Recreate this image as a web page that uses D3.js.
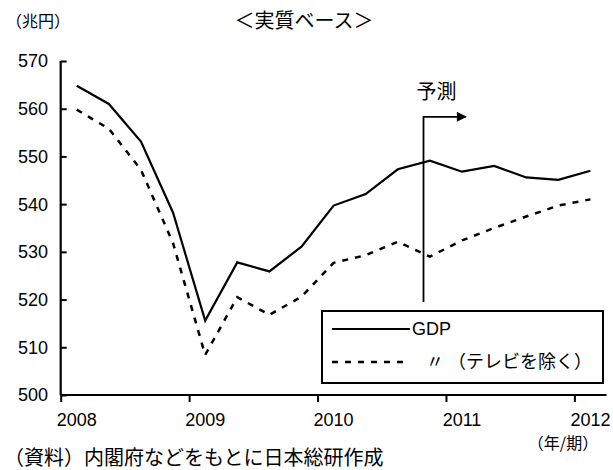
<!DOCTYPE html>
<html><head><meta charset="utf-8">
<script src="https://cdn.jsdelivr.net/npm/d3@7"></script>
<style>
html,body{margin:0;padding:0;background:#fff;}
svg{display:block;}
</style></head>
<body>
<svg id="chart" width="613" height="470"></svg>
<script>
// ---- data ----
const quarters = ["2008Q1","2008Q2","2008Q3","2008Q4","2009Q1","2009Q2","2009Q3","2009Q4",
  "2010Q1","2010Q2","2010Q3","2010Q4","2011Q1","2011Q2","2011Q3","2011Q4","2012Q1"];
const yearLabels = ["2008","2009","2010","2011","2012"];
const gdp   = [564.8, 561.0, 553.1, 538.2, 515.6, 527.8, 525.9, 531.1, 539.7, 542.1, 547.3, 549.1, 546.8, 548.0, 545.6, 545.1, 547.0];
const exTV  = [559.8, 555.8, 547.2, 531.8, 508.4, 520.5, 516.8, 520.6, 527.7, 529.3, 532.1, 529.0, 532.4, 535.0, 537.4, 539.7, 541.0];
const yTicks = [500,510,520,530,540,550,560,570];
const seriesNames = ["GDP", "〃 （テレビを除く）"];
const forecastIndex = 11.3;      // position of forecast marker (category units)
const forecastArrowEnd = 12.62;
const forecastRange = [519.5, 558.3];

// ---- layout ----
const svg = d3.select("#chart");
const x = d3.scaleLinear().domain([0, quarters.length]).range([60.7, 606.5]);
const y = d3.scaleLinear().domain([500, 570]).range([395, 61]);
const cjk = "'Noto Sans CJK JP', 'Noto Sans', sans-serif";
const latin = "'Liberation Sans', Arial, sans-serif";

// lines
const line = d3.line().x((d,i)=>x(i+0.5)).y(d=>y(d));
svg.append("path").datum(exTV).attr("d", line).attr("fill","none")
  .attr("stroke","#000").attr("stroke-width",2.5).attr("stroke-dasharray","6,7");
svg.append("path").datum(gdp).attr("d", line).attr("fill","none")
  .attr("stroke","#000").attr("stroke-width",2.2).attr("stroke-linejoin","miter");

// axes
const xAxis = d3.axisBottom(x).tickValues(d3.range(0, quarters.length, 4))
  .tickSize(7).tickFormat("");
const gx = svg.append("g").attr("transform",`translate(0,${y(500)})`).call(xAxis);
gx.select(".domain").attr("stroke-width",2.2).attr("d",`M${x(0)},0H${x(quarters.length)}`);
gx.selectAll(".tick line").attr("stroke-width",2);

const yAxis = d3.axisRight(y).tickValues(yTicks).tickSize(6).tickFormat("");
const gy = svg.append("g").attr("transform",`translate(${x(0)},0)`).call(yAxis);
gy.select(".domain").attr("stroke-width",2.2).attr("d",`M0,${y(570)}V${y(500)}`);
gy.selectAll(".tick line").attr("stroke-width",2);

// y tick labels
svg.append("g").selectAll("text").data(yTicks).join("text")
  .attr("x", 48).attr("y", d=>y(d)).attr("dy","0.36em")
  .attr("text-anchor","end").attr("font-family",latin).attr("font-size",18)
  .text(d=>d);

// x labels (year at Q1 category)
svg.append("g").selectAll("text").data(yearLabels).join("text")
  .attr("x", (d,i)=>x(i*4+0.5)).attr("y", 426)
  .attr("text-anchor","middle").attr("font-family",latin).attr("font-size",18)
  .text(d=>d);

// forecast marker
const fx = x(forecastIndex);
svg.append("defs").append("marker").attr("id","arr").attr("viewBox","0 0 10 10")
  .attr("refX",9).attr("refY",5).attr("markerWidth",12).attr("markerHeight",10)
  .attr("markerUnits","userSpaceOnUse").attr("orient","auto")
  .append("path").attr("d","M0,0L10,5L0,10Z").attr("fill","#000");
svg.append("path")
  .attr("d",`M${fx},${y(forecastRange[0])}V${y(forecastRange[1])}H${x(forecastArrowEnd)}`)
  .attr("fill","none").attr("stroke","#000").attr("stroke-width",1.8)
  .attr("marker-end","url(#arr)");
svg.append("text").attr("x", fx-7).attr("y", 99).attr("font-family",cjk)
  .attr("font-size",20).text("予測");

// legend
const lg = svg.append("g");
lg.append("rect").attr("x",322).attr("y",311).attr("width",281).attr("height",72)
  .attr("fill","#fff").attr("stroke","#000").attr("stroke-width",2);
lg.append("line").attr("x1",332).attr("x2",410).attr("y1",329).attr("y2",329)
  .attr("stroke","#000").attr("stroke-width",2.2);
lg.append("line").attr("x1",332).attr("x2",410).attr("y1",362).attr("y2",362)
  .attr("stroke","#000").attr("stroke-width",2.5).attr("stroke-dasharray","6,7");
lg.append("text").attr("x",412).attr("y",335).attr("font-family",latin)
  .attr("font-size",18).text(seriesNames[0]);
lg.append("text").attr("x",426).attr("y",368).attr("font-family",cjk)
  .attr("font-size",18).text(seriesNames[1]);

// titles and notes
svg.append("text").attr("x",6).attr("y",27).attr("font-family",cjk)
  .attr("font-size",16).text("（兆円）");
svg.append("text").attr("x",304).attr("y",28).attr("text-anchor","middle")
  .attr("font-family",cjk).attr("font-size",20).text("＜実質ベース＞");
svg.append("text").attr("x",563).attr("y",449).attr("text-anchor","middle")
  .attr("font-family",cjk).attr("font-size",16).text("（年/期）");
svg.append("text").attr("x",4).attr("y",465).attr("font-family",cjk)
  .attr("font-size",20).text("（資料）内閣府などをもとに日本総研作成");
</script>
</body></html>
